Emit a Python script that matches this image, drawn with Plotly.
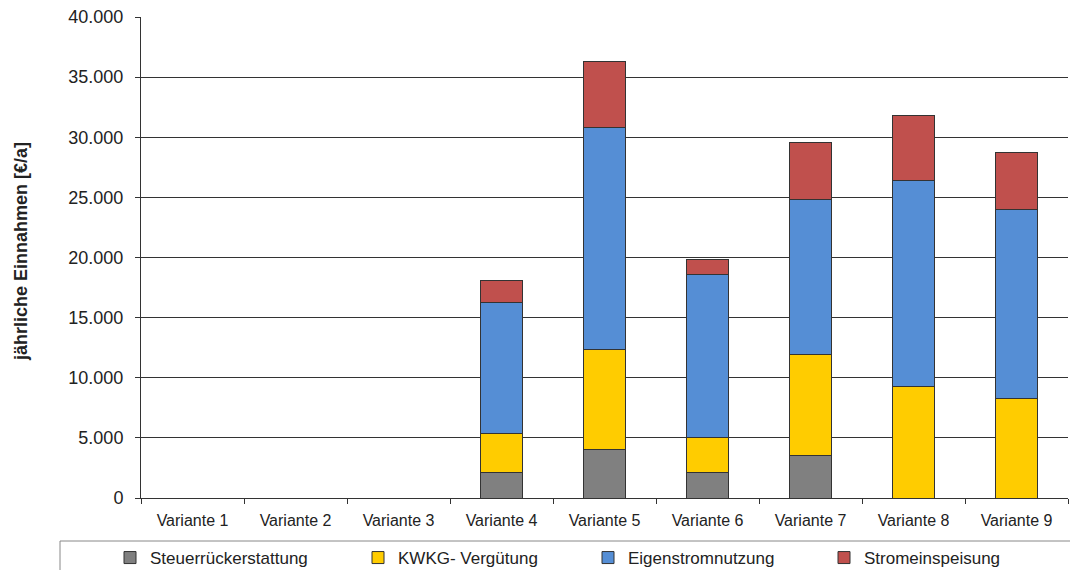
import plotly.graph_objects as go

categories = [f"Variante {i}" for i in range(1, 10)]
steuer = [0, 0, 0, 2100, 4050, 2100, 3500, 0, 0]
kwkg = [0, 0, 0, 3280, 8300, 2950, 8470, 9310, 8290]
eigen = [0, 0, 0, 10900, 18420, 13550, 12880, 17100, 15710]
einspeis = [0, 0, 0, 1800, 5570, 1250, 4750, 5370, 4740]

series = [
    ("Steuerrückerstattung", steuer, "#808080"),
    ("KWKG- Vergütung", kwkg, "#FFCC00"),
    ("Eigenstromnutzung", eigen, "#558ED5"),
    ("Stromeinspeisung", einspeis, "#C0504D"),
]
yticks = [0, 5000, 10000, 15000, 20000, 25000, 30000, 35000, 40000]
yticklabels = ["0", "5.000", "10.000", "15.000", "20.000", "25.000", "30.000", "35.000", "40.000"]

W, H = 1070, 570
L, R, T, B = 141, 2, 17, 72
pw, ph = W - L - R, H - T - B
def px(x): return (x - L) / pw
def py(y): return (H - B - y) / ph

FONT = "Liberation Sans, Arial, sans-serif"
fig = go.Figure()
legend_text_x = [150, 398, 628, 864]
for i, (name, vals, col) in enumerate(series):
    lg = "legend" if i == 0 else f"legend{i+1}"
    fig.add_trace(go.Bar(
        x=categories, y=vals, name=name, width=0.4,
        marker=dict(color=col, line=dict(color="#333333", width=1)),
        legend=lg,
    ))

layout_legends = {}
for i in range(4):
    key = "legend" if i == 0 else f"legend{i+1}"
    layout_legends[key] = dict(
        x=px(legend_text_x[i] - 40), xanchor="left",
        y=py(558), yanchor="middle",
        orientation="h", bgcolor="rgba(0,0,0,0)", borderwidth=0,
        font=dict(family=FONT, size=17, color="#222222"),
        itemwidth=30,
    )

fig.update_layout(
    barmode="stack",
    width=W, height=H,
    margin=dict(l=L, r=R, t=T, b=B, pad=0, autoexpand=False),
    paper_bgcolor="white", plot_bgcolor="white",
    font=dict(family=FONT, size=16, color="#222222"),
    xaxis=dict(
        range=[-0.5, 8.5], tickson="boundaries", ticks="outside", ticklen=5,
        tickcolor="#333333", showline=True, linecolor="#333333", linewidth=1,
        tickfont=dict(family=FONT, size=16, color="#222222"), showgrid=False,
        ticklabelstandoff=8,
    ),
    yaxis=dict(
        range=[0, 40000], tickvals=yticks, ticktext=yticklabels,
        ticks="outside", ticklen=5, tickcolor="#333333",
        showline=True, linecolor="#333333", linewidth=1,
        showgrid=True, gridcolor="#333333", gridwidth=1,
        tickfont=dict(family=FONT, size=18, color="#222222"),
        zeroline=False, ticklabelstandoff=8,
    ),
    showlegend=True,
    **layout_legends,
    annotations=[dict(
        text="<b>jährliche Einnahmen [€/a]</b>", textangle=-90,
        xref="paper", yref="paper", x=px(21), y=py(252),
        xanchor="center", yanchor="middle", showarrow=False,
        font=dict(family=FONT, size=18, color="#222222"),
    )],
    shapes=[dict(
        type="rect", xref="paper", yref="paper",
        x0=px(60), x1=px(1080), y0=py(541), y1=py(580),
        line=dict(color="#888888", width=1), fillcolor="rgba(0,0,0,0)",
    )],
)

fig.write_html("out.html")
